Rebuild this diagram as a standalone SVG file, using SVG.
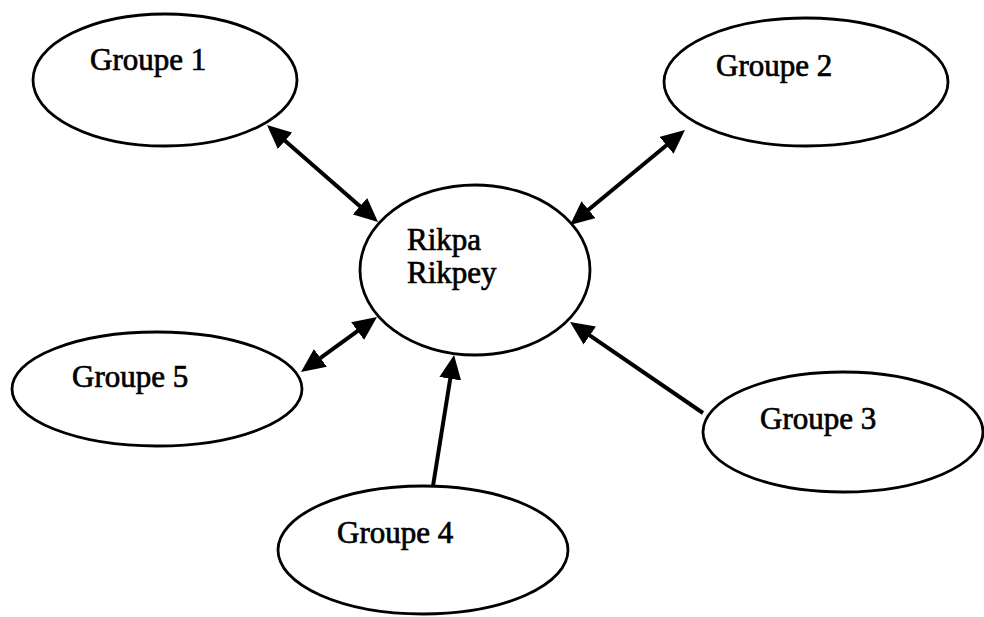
<svg xmlns="http://www.w3.org/2000/svg" width="984" height="617" viewBox="0 0 984 617">
<style>
.node ellipse{fill:#fff;stroke:#000;stroke-width:2.8}
.node text{font-family:"Liberation Serif","Times New Roman",serif;font-size:31px;fill:#000;stroke:#000;stroke-width:0.7}
.conn line{stroke:#000;stroke-width:4}
</style>
<defs>
<marker id="ah" viewBox="0 0 24 22" refX="13" refY="11" markerWidth="24" markerHeight="22" markerUnits="userSpaceOnUse" orient="auto-start-reverse">
<path d="M0,0 L24,11 L0,22 z" fill="#000"/>
</marker>
</defs>
<rect width="984" height="617" fill="#fff"/>
<g id="connectors" class="conn">
<line x1="275.3" y1="132.2" x2="369.7" y2="214.8" marker-start="url(#ah)" marker-end="url(#ah)"/>
<line x1="676.5" y1="137.0" x2="578.5" y2="218.0" marker-start="url(#ah)" marker-end="url(#ah)"/>
<line x1="368.1" y1="323.4" x2="309.9" y2="365.6" marker-start="url(#ah)" marker-end="url(#ah)"/>
<line x1="433" y1="486" x2="452.3" y2="365.9" marker-end="url(#ah)"/>
<line x1="703" y1="413" x2="579.1" y2="328.2" marker-end="url(#ah)"/>
</g>
<g id="groupe1" class="node">
<ellipse cx="165" cy="80" rx="132" ry="66"/>
<text x="90" y="70">Groupe 1</text>
</g>
<g id="groupe2" class="node">
<ellipse cx="806" cy="82" rx="142" ry="64"/>
<text x="716" y="76">Groupe 2</text>
</g>
<g id="rikpa" class="node">
<ellipse cx="475" cy="270" rx="115" ry="85"/>
<text x="407" y="250">Rikpa</text>
<text x="407" y="283">Rikpey</text>
</g>
<g id="groupe5" class="node">
<ellipse cx="157" cy="389" rx="145" ry="57"/>
<text x="72" y="387">Groupe 5</text>
</g>
<g id="groupe3" class="node">
<ellipse cx="843" cy="432" rx="140" ry="60"/>
<text x="760" y="429">Groupe 3</text>
</g>
<g id="groupe4" class="node">
<ellipse cx="423" cy="550" rx="145" ry="64"/>
<text x="337" y="543">Groupe 4</text>
</g>
</svg>
